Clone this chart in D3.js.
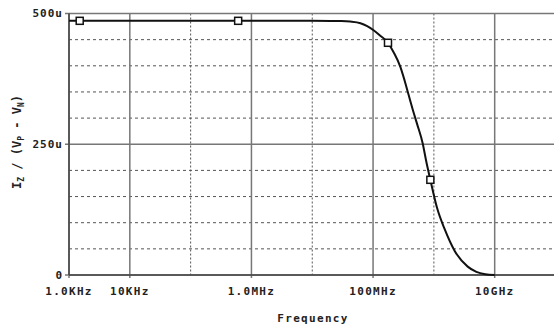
<!DOCTYPE html>
<html>
<head>
<meta charset="utf-8">
<script src="https://cdn.jsdelivr.net/npm/d3@7"></script>
<style>
  html, body { margin: 0; padding: 0; background: #fff; }
  svg text { font-family: "DejaVu Sans Mono", monospace; font-weight: bold; fill: #222; }
</style>
</head>
<body>
<div id="chart"></div>
<script>
// Frequency response (Hz, amps)
const freqs = [1e3, 1e4, 1e5, 1e6, 1e7, 2e7, 3e7, 4.2e7, 6.2e7, 8e7, 1.02e8, 1.3e8, 1.76e8, 2.2e8, 2.81e8,
  3.3e8, 3.85e8, 4.5e8, 5.29e8, 6.54e8, 7.53e8, 8.75e8, 1.13e9, 1.5e9, 2.2e9, 3.6e9, 5e9, 7e9, 1e10];
const values = [486e-6, 486e-6, 486e-6, 486e-6, 486e-6, 485.8e-6, 485.5e-6, 484.5e-6, 481.5e-6, 476e-6, 468e-6,
  458e-6, 444e-6, 425e-6, 398e-6, 372e-6, 344e-6, 316e-6, 289e-6, 252e-6, 216e-6, 182e-6,
  128e-6, 88e-6, 46e-6, 16e-6, 6e-6, 1.5e-6, 0];

const markerFreqs = [1.5e3, 6.05e5, 1.76e8, 8.75e8];
const markerValues = [486e-6, 486e-6, 444e-6, 182e-6];

const majorTicks = [1e3, 1e4, 1e6, 1e8, 1e10];
const majorLabels = ['1.0KHz', '10KHz', '1.0MHz', '100MHz', '10GHz'];
const minorTicks = [1e5, 1e7, 1e9];
const yTicks = [0, 250e-6, 500e-6];
const yLabels = ['0', '250u', '500u'];
const yGrid = [50e-6, 100e-6, 150e-6, 200e-6, 300e-6, 350e-6, 400e-6, 450e-6];

const width = 554, height = 328;
const plot = {left: 69, top: 13.5, bottom: 275, right: 555.5};

const svg = d3.select('#chart').append('svg')
  .attr('width', width)
  .attr('height', height);

const x = d3.scaleLog().domain([1e3, 1e11]).range([plot.left, plot.right]);
const y = d3.scaleLinear().domain([0, 500e-6]).range([plot.bottom, plot.top]);

// horizontal dashed grid
svg.selectAll('.hgrid')
  .data(yGrid)
  .enter().append('line')
  .attr('x1', plot.left).attr('x2', plot.right)
  .attr('y1', d => y(d)).attr('y2', d => y(d))
  .attr('stroke', '#555')
  .attr('stroke-width', 1)
  .attr('stroke-dasharray', '3,3');

// vertical dotted grid
svg.selectAll('.vminor')
  .data(minorTicks)
  .enter().append('line')
  .attr('x1', d => x(d)).attr('x2', d => x(d))
  .attr('y1', plot.top).attr('y2', plot.bottom)
  .attr('stroke', '#555')
  .attr('stroke-width', 1)
  .attr('stroke-dasharray', '2,2');

// solid grid
svg.selectAll('.vmajor')
  .data(majorTicks)
  .enter().append('line')
  .attr('x1', d => x(d)).attr('x2', d => x(d))
  .attr('y1', plot.top).attr('y2', plot.bottom + 3)
  .attr('stroke', '#777')
  .attr('stroke-width', 1.5);

svg.selectAll('.hmajor')
  .data(yTicks)
  .enter().append('line')
  .attr('x1', plot.left - 4).attr('x2', plot.right)
  .attr('y1', d => y(d)).attr('y2', d => y(d))
  .attr('stroke', '#777')
  .attr('stroke-width', 1.5);

// axis lines
svg.append('line')
  .attr('x1', plot.left).attr('x2', plot.left)
  .attr('y1', plot.top).attr('y2', plot.bottom)
  .attr('stroke', '#444').attr('stroke-width', 1.5);
svg.append('line')
  .attr('x1', plot.left).attr('x2', plot.right)
  .attr('y1', plot.bottom).attr('y2', plot.bottom)
  .attr('stroke', '#444').attr('stroke-width', 1.5);

// tick labels
svg.selectAll('.xlab')
  .data(majorTicks)
  .enter().append('text')
  .attr('x', d => x(d))
  .attr('y', 295)
  .attr('text-anchor', 'middle')
  .attr('font-size', '11px')
  .attr('letter-spacing', '1.3px')
  .text((d, i) => majorLabels[i]);

svg.selectAll('.ylab')
  .data(yTicks)
  .enter().append('text')
  .attr('x', 63)
  .attr('y', d => y(d))
  .attr('dy', '0.35em')
  .attr('text-anchor', 'end')
  .attr('font-size', '11px')
  .attr('letter-spacing', '1px')
  .text((d, i) => yLabels[i]);

// axis titles
svg.append('text')
  .attr('x', 313)
  .attr('y', 322)
  .attr('text-anchor', 'middle')
  .attr('font-size', '11px')
  .attr('letter-spacing', '1.3px')
  .text('Frequency');

const yt = svg.append('text')
  .attr('transform', 'translate(21,142) rotate(-90)')
  .attr('text-anchor', 'middle')
  .attr('font-size', '12px')
  .attr('font-family', 'DejaVu Sans, sans-serif');
yt.append('tspan').text('I');
yt.append('tspan').attr('font-size', '8px').attr('dy', 3).text('Z');
yt.append('tspan').attr('dy', -3).text(' / (V');
yt.append('tspan').attr('font-size', '8px').attr('dy', 3).text('P');
yt.append('tspan').attr('dy', -3).text(' - V');
yt.append('tspan').attr('font-size', '8px').attr('dy', 3).text('N');
yt.append('tspan').attr('dy', -3).text(')');

// curve
const line = d3.line()
  .x((d, i) => x(freqs[i]))
  .y(d => y(d))
  .curve(d3.curveMonotoneX);

svg.append('path')
  .datum(values)
  .attr('d', line)
  .attr('fill', 'none')
  .attr('stroke', '#111')
  .attr('stroke-width', 2);

// markers
svg.selectAll('.marker')
  .data(markerValues)
  .enter().append('rect')
  .attr('x', (d, i) => x(markerFreqs[i]) - 3.5)
  .attr('y', d => y(d) - 3.5)
  .attr('width', 7)
  .attr('height', 7)
  .attr('fill', '#fff')
  .attr('stroke', '#111')
  .attr('stroke-width', 1.5);
</script>
</body>
</html>
